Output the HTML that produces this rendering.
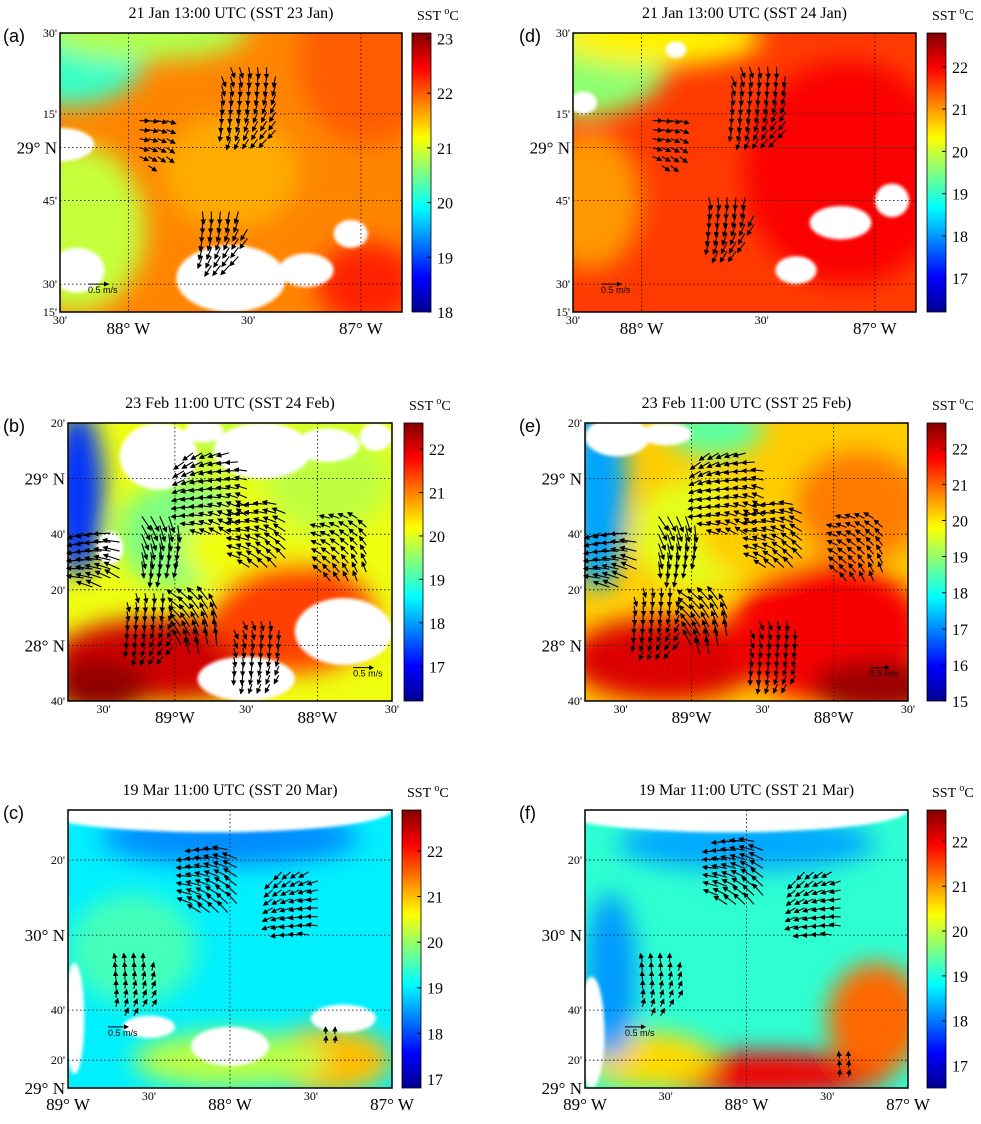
<!DOCTYPE html>
<html><head><meta charset="utf-8">
<style>
body{margin:0;background:#fff;}
svg{display:block;font-family:"Liberation Serif",serif;}
</style></head>
<body>
<svg id="fig" width="981" height="1124" viewBox="0 0 981 1124" xmlns="http://www.w3.org/2000/svg">
<defs>
<filter id="blur" x="-50%" y="-50%" width="200%" height="200%"><feGaussianBlur stdDeviation="12"/></filter>
<filter id="blur2" x="-50%" y="-50%" width="200%" height="200%"><feGaussianBlur stdDeviation="1.5"/></filter>
<linearGradient id="jet" x1="0" y1="1" x2="0" y2="0">
<stop offset="0" stop-color="#00008f"/><stop offset="0.125" stop-color="#0000ff"/><stop offset="0.375" stop-color="#00ffff"/><stop offset="0.625" stop-color="#ffff00"/><stop offset="0.875" stop-color="#ff0000"/><stop offset="1" stop-color="#800000"/>
</linearGradient>
<marker id="ah" markerWidth="5" markerHeight="5" refX="4" refY="2.5" orient="auto"><path d="M0,0 L5,2.5 L0,5 z" fill="#000"/></marker>
</defs>
<g id="root"></g>
</svg>
<script>
// panel geometry, titles and data
const panelIds = ['a','d','b','e','c','f'];
const panelTitles = ['21 Jan 13:00 UTC (SST 23 Jan)','21 Jan 13:00 UTC (SST 24 Jan)','23 Feb 11:00 UTC (SST 24 Feb)','23 Feb 11:00 UTC (SST 25 Feb)','19 Mar 11:00 UTC (SST 20 Mar)','19 Mar 11:00 UTC (SST 21 Mar)'];
const cbTicks = [[23,22,21,20,19,18],[22,21,20,19,18,17],[22,21,20,19,18,17],[22,21,20,19,18,17,16,15],[22,21,20,19,18,17],[22,21,20,19,18,17]];
const cbRange = [[18,23.1],[16.2,22.8],[16.2,22.6],[15,22.7],[16.8,22.9],[16.5,22.7]];
const yLabels = [
 [["30'",0],["15'",0.29],["29° N",0.41],["45'",0.6],["30'",0.9],["15'",1]],
 [["30'",0],["15'",0.29],["29° N",0.41],["45'",0.6],["30'",0.9],["15'",1]],
 [["20'",0],["29° N",0.2],["40'",0.4],["20'",0.6],["28° N",0.8],["40'",1]],
 [["20'",0],["29° N",0.2],["40'",0.4],["20'",0.6],["28° N",0.8],["40'",1]],
 [["20'",0.18],["30° N",0.45],["40'",0.72],["20'",0.9],["29° N",1]],
 [["20'",0.18],["30° N",0.45],["40'",0.72],["20'",0.9],["29° N",1]]];
const xLabels = [
 [["30'",0],["88° W",0.2,1],["30'",0.55],["87° W",0.88,1]],
 [["30'",0],["88° W",0.2,1],["30'",0.55],["87° W",0.88,1]],
 [["30'",0.11],["89°W",0.33,1],["30'",0.55],["88°W",0.77,1],["30'",1]],
 [["30'",0.11],["89°W",0.33,1],["30'",0.55],["88°W",0.77,1],["30'",1]],
 [["89° W",0,1],["30'",0.25],["88° W",0.5,1],["30'",0.75],["87° W",1,1]],
 [["89° W",0,1],["30'",0.25],["88° W",0.5,1],["30'",0.75],["87° W",1,1]]];
// base SST per panel
const baseSST = [21.8, 21.6, 20.1, 20.2, 19.0, 19.1];
// SST blobs: [panel, cx, cy, rx, ry, value]
const blobs = [
 [0,0.03,0.08,0.22,0.18,20.2],[0,0.25,0.0,0.3,0.1,20.8],[0,0.05,0.7,0.2,0.3,20.9],[0,0.9,0.1,0.2,0.3,22.0],[0,0.9,0.9,0.15,0.15,22.3],[0,0.5,0.5,0.2,0.2,21.6],
 [1,0.03,0.1,0.25,0.2,19.6],[1,0.25,0.02,0.3,0.1,20.4],[1,0.05,0.6,0.15,0.25,21.0],[1,0.8,0.5,0.3,0.4,22.0],
 [2,0.03,0.25,0.08,0.3,17.3],[2,0.35,0.4,0.2,0.2,19.4],[2,0.55,0.45,0.2,0.15,20.1],[2,0.3,0.85,0.35,0.15,22.1],[2,0.7,0.7,0.25,0.2,21.4],[2,0.8,0.2,0.2,0.2,19.8],[2,0.1,0.95,0.15,0.1,22.5],[2,0.5,0.08,0.15,0.1,19.8],
 [3,0.04,0.25,0.09,0.35,17.2],[3,0.35,0.4,0.2,0.2,19.6],[3,0.55,0.4,0.2,0.15,20.2],[3,0.25,0.85,0.3,0.15,22.0],[3,0.75,0.75,0.3,0.25,21.8],[3,0.85,0.3,0.2,0.2,20.8],[3,0.9,0.95,0.2,0.1,22.5],[3,0.4,0.02,0.15,0.1,18.6],
 [4,0.5,0.1,0.4,0.1,18.4],[4,0.2,0.5,0.2,0.2,19.5],[4,0.8,0.9,0.2,0.12,21.0],[4,0.5,0.9,0.3,0.1,20.2],
 [5,0.5,0.12,0.4,0.1,18.3],[5,0.55,0.95,0.4,0.08,22.0],[5,0.9,0.75,0.15,0.2,21.3],[5,0.2,0.9,0.2,0.1,20.6],[5,0.08,0.6,0.08,0.3,18.2]];
// cloud/land (white) patches: [panel, cx, cy, rx, ry]
const clouds = [
 [0,0.0,0.4,0.1,0.06],[0,0.05,0.85,0.08,0.08],[0,0.5,0.88,0.16,0.12],[0,0.72,0.85,0.08,0.06],[0,0.85,0.72,0.05,0.05],
 [1,0.78,0.68,0.09,0.06],[1,0.93,0.6,0.05,0.06],[1,0.65,0.85,0.06,0.05],[1,0.03,0.25,0.04,0.04],[1,0.3,0.06,0.03,0.03],
 [2,0.28,0.12,0.12,0.12],[2,0.6,0.1,0.15,0.1],[2,0.42,0.03,0.06,0.04],[2,0.85,0.75,0.15,0.12],[2,0.55,0.92,0.15,0.08],[2,0.95,0.05,0.05,0.05],[2,0.13,0.45,0.04,0.06],[2,0.8,0.08,0.1,0.06],
 [3,0.1,0.05,0.1,0.07],[3,0.25,0.04,0.08,0.04],
 [4,0.45,0.0,0.55,0.08],[4,0.5,0.85,0.12,0.07],[4,0.25,0.78,0.08,0.04],[4,0.85,0.75,0.1,0.05],[4,0.02,0.75,0.03,0.2],
 [5,0.45,0.0,0.55,0.08],[5,0.02,0.8,0.04,0.2]];
// current-arrow clusters: [panel, cx, cy, radius, direction(deg), speed]
const clusters = [
 [0,0.55,0.25,0.13,100,0.5],[0,0.27,0.38,0.08,20,0.4],[0,0.47,0.73,0.1,110,0.6],
 [1,0.54,0.25,0.13,100,0.5],[1,0.27,0.38,0.08,20,0.4],[1,0.45,0.68,0.1,105,0.6],
 [2,0.1,0.48,0.1,185,0.9],[2,0.28,0.42,0.1,80,0.9],[2,0.45,0.25,0.15,180,0.6],[2,0.6,0.4,0.12,200,0.7],[2,0.85,0.45,0.12,220,0.5],[2,0.25,0.72,0.12,100,0.4],[2,0.4,0.72,0.1,240,0.9],[2,0.58,0.82,0.12,90,0.4],
 [3,0.1,0.48,0.1,185,0.9],[3,0.28,0.42,0.1,80,0.9],[3,0.45,0.25,0.15,180,0.6],[3,0.6,0.4,0.12,200,0.7],[3,0.85,0.45,0.12,220,0.5],[3,0.22,0.7,0.12,100,0.4],[3,0.38,0.72,0.1,240,0.9],[3,0.58,0.82,0.12,90,0.4],
 [4,0.45,0.25,0.12,200,0.8],[4,0.7,0.33,0.12,160,0.5],[4,0.2,0.63,0.1,280,0.3],[4,0.8,0.82,0.04,270,0.2],
 [5,0.48,0.22,0.12,200,0.8],[5,0.72,0.33,0.12,160,0.5],[5,0.23,0.63,0.1,280,0.3],[5,0.8,0.92,0.05,270,0.2]];

const boxes = [[60,33,402,312,412],[573,33,916,312,927],[68,423,392,701,404],[585,423,908,701,927],[68,810,392,1088,402],[585,810,908,1088,927]];
const NS='http://www.w3.org/2000/svg';
const root=document.getElementById('root');
function el(tag,attrs,parent){const e=document.createElementNS(NS,tag);for(const k in attrs)e.setAttribute(k,attrs[k]);(parent||root).appendChild(e);return e;}
function jet(t){t=Math.max(0,Math.min(1,t));const r=Math.max(0,Math.min(1,1.5-Math.abs(4*t-3)));const g=Math.max(0,Math.min(1,1.5-Math.abs(4*t-2)));const b=Math.max(0,Math.min(1,1.5-Math.abs(4*t-1)));return `rgb(${Math.round(r*255)},${Math.round(g*255)},${Math.round(b*255)})`;}
function sstColor(p,v){const [lo,hi]=cbRange[p];return jet((v-lo)/(hi-lo));}

boxes.forEach((b,p)=>{
 const [x0,y0,x1,y1,cbx]=b; const w=x1-x0,h=y1-y0;
 const g=el('g',{});
 
 
 const cp=el('clipPath',{id:'clip'+p},g); el('rect',{x:x0,y:y0,width:w,height:h},cp);
 const map=el('g',{'clip-path':'url(#clip'+p+')'},g);
 
 
 el('rect',{x:x0,y:y0,width:w,height:h,fill:sstColor(p,baseSST[p])},map);
 const bg=el('g',{filter:'url(#blur)'},map);
 blobs.filter(d=>d[0]===p).forEach(d=>{
  const e=el('ellipse',{cx:x0+d[1]*w,cy:y0+d[2]*h,rx:d[3]*w,ry:d[4]*h,fill:sstColor(p,d[5])},bg);
  
  
 });
 const cg=el('g',{filter:'url(#blur2)'},map);
 clouds.filter(d=>d[0]===p).forEach(d=>{
  const e=el('ellipse',{cx:x0+d[1]*w,cy:y0+d[2]*h,rx:d[3]*w,ry:d[4]*h,fill:'#fff'},cg);
  
  
 });
 // grid
 xLabels[p].forEach(l=>{if(l[2]&&l[1]>0&&l[1]<1){const e=el('line',{x1:x0+l[1]*w,x2:x0+l[1]*w,y1:y0,y2:y1,stroke:'#000','stroke-width':0.8,'stroke-dasharray':'1.5,2.5'},g);}});
 yLabels[p].forEach(l=>{if(l[1]>0&&l[1]<1){const e=el('line',{x1:x0,x2:x1,y1:y0+l[1]*h,y2:y0+l[1]*h,stroke:'#000','stroke-width':0.8,'stroke-dasharray':'1.5,2.5'},g);}});
 // arrows
 const ag=el('g',{},g);
 clusters.filter(d=>d[0]===p).forEach(d=>{
  const cx=x0+d[1]*w,cy=y0+d[2]*h,r=d[3]*w,step=9;
  for(let yy=cy-r;yy<=cy+r;yy+=step)for(let xx=cx-r*0.8;xx<=cx+r*0.8;xx+=step){
   if(((xx-cx)/(r*0.8))**2+((yy-cy)/r)**2>1)continue;
   const a=(d[4]+((xx-cx)+(yy-cy))*0.6)*Math.PI/180, L=4+d[5]*14;
   const e=el('line',{x1:xx,y1:yy,x2:xx+L*Math.cos(a),y2:yy+L*Math.sin(a),stroke:'#000','stroke-width':1.1,'marker-end':'url(#ah)'},ag);
   
   
  }
 });
 // scale arrow
 {const sx=x0+(p<2?28:(p<4?w*0.88:40)),sy=y0+(p<2?h*0.9:(p<4?h*0.88:h*0.78));
  el('line',{x1:sx,y1:sy,x2:sx+20,y2:sy,stroke:'#000','stroke-width':1,'marker-end':'url(#ah)'},g);
  const t=el('text',{x:sx,y:sy+9,'font-size':9,'font-family':'Liberation Sans, sans-serif'},g);t.textContent='0.5 m/s';
  }
 el('rect',{x:x0,y:y0,width:w,height:h,fill:'none',stroke:'#000','stroke-width':1.5},g);
 // title
 const tt=el('text',{x:(x0+x1)/2,y:y0-15,'font-size':16,'text-anchor':'middle'},g);tt.textContent=panelTitles[p];
 
 const pl=el('text',{x:p%2===0?3:519,y:y0+9,'font-size':18,'font-family':'Liberation Sans, sans-serif'},g);pl.textContent='('+panelIds[p]+')';
 
 // axis labels
 yLabels[p].forEach(l=>{const big=l[0].includes('N');const t=el('text',{x:x0-3,y:y0+l[1]*h+(big?6:4),'font-size':big?17:12,'text-anchor':'end'},g);t.textContent=l[0];});
 xLabels[p].forEach(l=>{const big=!!l[2];const t=el('text',{x:x0+l[1]*w,y:y1+(big?22:12),'font-size':big?17:12,'text-anchor':'middle'},g);t.textContent=l[0];});
 // colorbar
 const cb=el('rect',{x:cbx,y:y0,width:19,height:h,fill:'url(#jet)',stroke:'#000','stroke-width':0.8},g);
 
 const [lo,hi]=cbRange[p];
 cbTicks[p].forEach(v=>{const yy=y1-(v-lo)/(hi-lo)*h;
  el('line',{x1:cbx+15,x2:cbx+19,y1:yy,y2:yy,stroke:'#000'},g);
  const t=el('text',{x:cbx+25,y:yy+6,'font-size':16},g);t.textContent=v;});
 const ct=el('text',{x:cbx+5,y:y0-13,'font-size':14},g);ct.innerHTML='SST <tspan dy="-6" font-size="10">o</tspan><tspan dy="6">C</tspan>';
 
});
</script>
</body></html>
